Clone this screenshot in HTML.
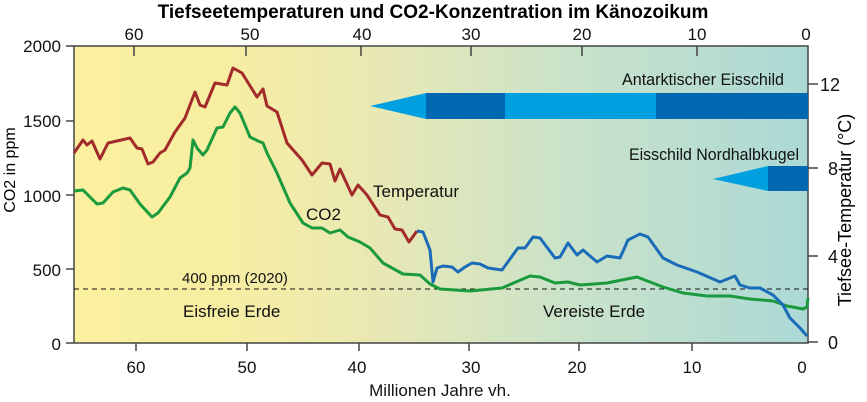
<!DOCTYPE html>
<html><head><meta charset="utf-8"><style>
html,body{margin:0;padding:0;background:#fff}
svg{display:block;font-family:"Liberation Sans",sans-serif}
</style></head><body>
<svg width="867" height="402" viewBox="0 0 867 402" xmlns="http://www.w3.org/2000/svg">
<defs>
<linearGradient id="bg" x1="0" x2="1" y1="0" y2="0">
<stop offset="0" stop-color="#faf0a0"/>
<stop offset="0.2" stop-color="#f8eea2"/>
<stop offset="0.42" stop-color="#e8e8b4"/>
<stop offset="0.65" stop-color="#cce3c8"/>
<stop offset="1" stop-color="#acd9d6"/>
</linearGradient>
</defs>
<rect x="74" y="46" width="734" height="297" fill="url(#bg)"/>
<text x="433" y="18" text-anchor="middle" font-size="19" font-weight="bold">Tiefseetemperaturen und CO2-Konzentration im Känozoikum</text>
<!-- frame -->
<path d="M66 46H808V343H66" fill="none" stroke="#444" stroke-width="1.5"/>
<line x1="74" y1="46" x2="74" y2="343" stroke="#444" stroke-width="1.5"/>
<!-- top ticks -->
<g stroke="#444" stroke-width="1.5">
<line x1="134" y1="46" x2="134" y2="56"/><line x1="246" y1="46" x2="246" y2="56"/><line x1="361" y1="46" x2="361" y2="56"/><line x1="471" y1="46" x2="471" y2="56"/><line x1="582" y1="46" x2="582" y2="56"/><line x1="697" y1="46" x2="697" y2="56"/>
<line x1="136" y1="343" x2="136" y2="351"/><line x1="247" y1="343" x2="247" y2="351"/><line x1="359" y1="343" x2="359" y2="351"/><line x1="469" y1="343" x2="469" y2="351"/><line x1="579" y1="343" x2="579" y2="351"/><line x1="692" y1="343" x2="692" y2="351"/>
<line x1="66" y1="121" x2="74" y2="121"/><line x1="66" y1="195" x2="74" y2="195"/><line x1="66" y1="269" x2="74" y2="269"/>
<line x1="808" y1="84" x2="818" y2="84"/><line x1="808" y1="168" x2="818" y2="168"/><line x1="808" y1="256" x2="818" y2="256"/><line x1="808" y1="342" x2="818" y2="342"/>
</g>
<g font-size="17" text-anchor="middle" fill="#111">
<text x="134" y="40">60</text><text x="250" y="40">50</text><text x="362" y="40">40</text><text x="471" y="40">30</text><text x="582" y="40">20</text><text x="697" y="40">10</text><text x="806" y="40">0</text>
<text x="136" y="373">60</text><text x="247" y="373">50</text><text x="357" y="373">40</text><text x="471" y="373">30</text><text x="577" y="373">20</text><text x="692" y="373">10</text><text x="802" y="373">0</text>
<text x="440" y="396">Millionen Jahre vh.</text>
</g>
<g font-size="17" text-anchor="end" fill="#111">
<text x="61" y="52">2000</text><text x="61" y="127">1500</text><text x="61" y="202">1000</text><text x="61" y="276">500</text><text x="61" y="350">0</text>
</g>
<g font-size="18" fill="#111">
<text x="820" y="91">12</text><text x="828" y="175">8</text><text x="828" y="263">4</text><text x="828" y="349">0</text>
</g>
<text transform="translate(15,170) rotate(-90)" font-size="16" text-anchor="middle">CO2 in ppm</text>
<text transform="translate(851,210) rotate(-90)" font-size="18" text-anchor="middle">Tiefsee-Temperatur (°C)</text>
<!-- ice bars -->
<polygon points="370,106 426,93 426,119" fill="#00a0e0"/>
<rect x="426" y="93" width="79" height="26" fill="#0068b0"/>
<rect x="505" y="93" width="151" height="26" fill="#00a0e0"/>
<rect x="656" y="93" width="152" height="26" fill="#0068b0"/>
<polygon points="713,179 768,166 768,191" fill="#00a0e0"/>
<rect x="768" y="166" width="40" height="25" fill="#0068b0"/>
<g font-size="17" fill="#111">
<text x="784" y="85" text-anchor="end" textLength="162" lengthAdjust="spacingAndGlyphs">Antarktischer Eisschild</text>
<text x="799" y="160" text-anchor="end" textLength="170" lengthAdjust="spacingAndGlyphs">Eisschild Nordhalbkugel</text>
<text x="373" y="197">Temperatur</text>
<text x="306" y="220">CO2</text>
<text x="183" y="317">Eisfreie Erde</text>
<text x="543" y="317">Vereiste Erde</text>
<text x="182" y="283" font-size="15">400 ppm (2020)</text>
</g>
<line x1="74" y1="289" x2="808" y2="289" stroke="#111" stroke-width="1" stroke-dasharray="5,4"/>
<!-- curves -->
<polyline fill="none" stroke="#1a9a3c" stroke-width="3" stroke-linejoin="round" points="74,191 83,190 90,197 97,204 103,203 113,192 123,188 130,190 140,204 152,217 158,213 170,197 180,178 187,173 190,168 193,140 197,148 203,155 207,150 217,128 223,127 230,113 235,107 240,113 250,137 258,141 263,143 267,153 277,173 290,203 303,223 312,228 322,228 330,233 340,230 348,237 360,242 370,248 383,263 403,274 420,275 430,284 440,289 470,291 502,288 530,276 540,277 555,283 568,282 580,285 607,283 637,277 663,287 683,293 707,296 730,296 750,299 773,301 787,306 803,309 807,307 808,298"/>
<polyline fill="none" stroke="#a32a2a" stroke-width="3" stroke-linejoin="round" points="74,153 83,140 87,145 92,141 100,159 108,143 130,138 137,148 142,149 148,164 153,162 160,153 165,150 175,132 185,118 195,92 200,105 205,107 215,83 227,85 233,68 242,73 257,97 263,89 267,106 277,112 287,143 302,160 312,175 322,163 330,164 335,181 340,169 352,195 358,185 367,195 380,215 388,217 395,229 402,230 409,242 417,231"/>
<polyline fill="none" stroke="#1a6cb8" stroke-width="3" stroke-linejoin="round" points="417,231 423,232 430,250 433,282 437,268 443,266 452,267 458,272 465,267 472,263 480,264 488,268 502,270 518,248 525,248 533,237 540,238 555,258 560,257 568,243 577,255 583,250 597,262 607,256 620,258 628,240 640,234 648,237 663,258 677,265 697,272 720,282 735,276 740,285 750,288 760,288 773,295 783,305 790,318 800,328 807,336"/>
</svg>
</body></html>
